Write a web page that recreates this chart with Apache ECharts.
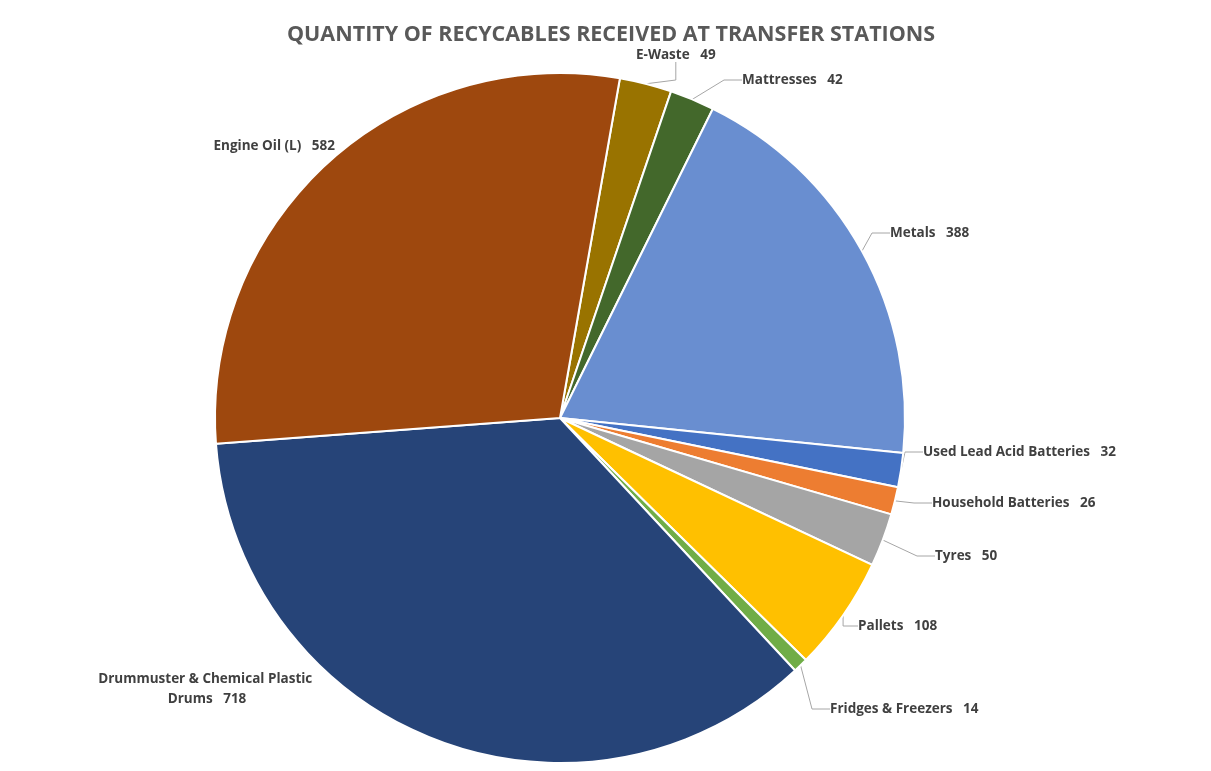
<!DOCTYPE html>
<html>
<head>
<meta charset="utf-8">
<script src="https://cdn.jsdelivr.net/npm/echarts@6/dist/echarts.min.js"></script>
<style>html,body{margin:0;padding:0;background:#fff;}#c{width:1211px;height:771px;}</style>
</head>
<body>
<div id="c"></div>
<script>
const titleText = 'QUANTITY OF RECYCABLES RECEIVED AT TRANSFER STATIONS';
const categories = ['E-Waste', 'Mattresses', 'Metals', 'Used Lead Acid Batteries', 'Household Batteries', 'Tyres', 'Pallets', 'Fridges & Freezers', 'Drummuster & Chemical Plastic Drums', 'Engine Oil (L)'];
const values = [49, 42, 388, 32, 26, 50, 108, 14, 718, 582];
const colors = ['#997300', '#43682B', '#698ED0', '#4472C4', '#ED7D31', '#A5A5A5', '#FFC000', '#70AD47', '#264478', '#9E480E'];

// label placement (layout only, like Excel's manual label positions): [x, y, align]
const labelPlacement = [
  [636, 55, 'left'], [742, 80, 'left'], [890, 233, 'left'], [923, 452, 'left'],
  [932, 503, 'left'], [935, 556, 'left'], [858, 626, 'left'], [830, 709, 'left'],
  [207, 689, 'center'], [335, 146, 'right']
];
const noLine = [8, 9];

const chart = echarts.init(document.getElementById('c'));
const data = categories.map((n, i) => {
  const item = { name: n, value: values[i], itemStyle: { color: colors[i] } };
  if (n.length > 30) {
    item.label = { width: 250, overflow: 'break', align: 'center', lineHeight: 20 };
  }
  if (noLine.indexOf(i) >= 0) item.labelLine = { show: false };
  return item;
});
chart.setOption({
  animation: false,
  title: {
    text: titleText,
    left: 282,
    top: 19,
    textStyle: { fontFamily: 'Open Sans', fontSize: 21.5, fontWeight: 'bold', color: '#595959' }
  },
  series: [{
    type: 'pie',
    center: [560, 418],
    radius: 345,
    startAngle: 80,
    clockwise: true,
    data: data,
    itemStyle: { borderColor: '#fff', borderWidth: 2 },
    label: {
      show: true,
      position: 'outside',
      formatter: p => p.name + '   ' + p.value,
      fontFamily: 'Open Sans',
      fontSize: 13.5,
      fontWeight: 'bold',
      color: '#404040'
    },
    labelLine: { show: true, length: 15, length2: 18, lineStyle: { color: '#A6A6A6', width: 1 } },
    labelLayout: function (p) {
      const pl = labelPlacement[p.dataIndex];
      return { x: pl[0], y: pl[1], align: pl[2], verticalAlign: 'middle' };
    }
  }]
});
</script>
</body>
</html>
